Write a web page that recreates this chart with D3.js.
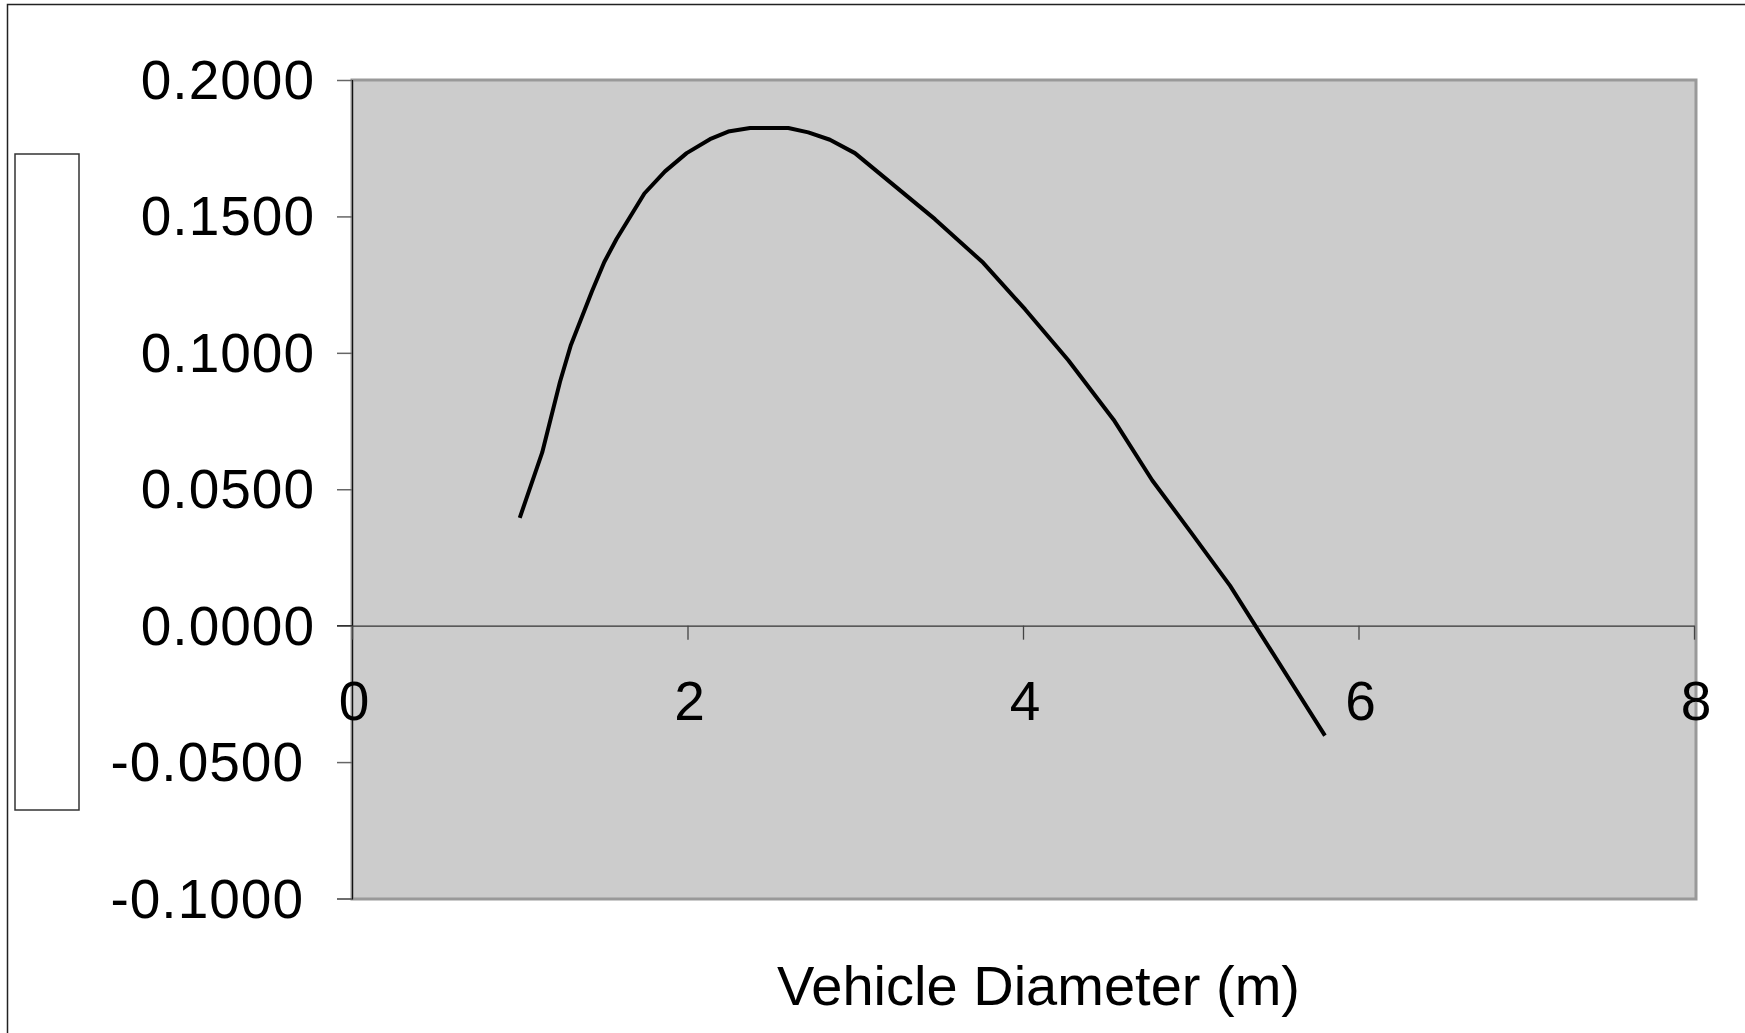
<!DOCTYPE html>
<html>
<head>
<meta charset="utf-8">
<script src="https://cdn.jsdelivr.net/npm/d3@7/dist/d3.min.js"></script>
<style>
  html, body { margin: 0; padding: 0; background: #fff; }
  svg { display: block; }
  text { font-family: "Liberation Sans", Arial, sans-serif; fill: #000; }
</style>
</head>
<body>
<svg id="chart" width="1745" height="1033"></svg>
<script>
// Data
const diameters = [1.0, 1.134, 1.24, 1.305, 1.43, 1.504, 1.577, 1.743, 1.866, 1.995, 2.134, 2.243, 2.373, 2.502, 2.601, 2.72, 2.849, 2.998, 3.475, 3.763, 4.012, 4.27, 4.54, 4.77, 5.0, 5.234, 5.8];
const values    = [0.0395, 0.0635, 0.0894, 0.1029, 0.1225, 0.1333, 0.1417, 0.1584, 0.1665, 0.1732, 0.1783, 0.1811, 0.1824, 0.1824, 0.1824, 0.1808, 0.1781, 0.1732, 0.1490, 0.1330, 0.1160, 0.0973, 0.0755, 0.0533, 0.0343, 0.0147, -0.0403];
const yTicks = [0.2, 0.15, 0.1, 0.05, 0, -0.05, -0.1];
const xTicks = [0, 2, 4, 6, 8];
const xTitle = "Vehicle Diameter (m)";

const svg = d3.select("#chart");
const plot = { left: 352, right: 1696, top: 80, bottom: 899 };

const x = d3.scaleLinear().domain([0, 8]).range([plot.left, 1694]);
const y = d3.scaleLinear().domain([-0.1, 0.2]).range([898.5, 80]);

// outer chart frame
svg.append("rect")
  .attr("x", 7.5).attr("y", 4.5)
  .attr("width", 1760).attr("height", 1060)
  .attr("fill", "#fff").attr("stroke", "#222").attr("stroke-width", 1.5);

// empty legend box
svg.append("rect")
  .attr("x", 15).attr("y", 154)
  .attr("width", 64).attr("height", 656)
  .attr("fill", "#fff").attr("stroke", "#333").attr("stroke-width", 1.5);

// plot area
svg.append("rect")
  .attr("x", plot.left).attr("y", plot.top)
  .attr("width", plot.right - plot.left).attr("height", plot.bottom - plot.top)
  .attr("fill", "#cccccc").attr("stroke", "#999").attr("stroke-width", 3);

// y axis
const yAxis = d3.axisLeft(y).tickValues(yTicks).tickSize(15).tickFormat("");
const gy = svg.append("g").attr("transform", `translate(${plot.left},0)`).call(yAxis);
gy.select(".domain").attr("stroke", "#111").attr("stroke-width", 1.2);
gy.selectAll(".tick line").attr("stroke", "#666").attr("stroke-width", 1.5);

svg.append("g").selectAll("text")
  .data(yTicks).join("text")
  .attr("x", d => d < 0 ? 304 : 315)
  .attr("y", d => y(d) + 19)
  .attr("text-anchor", "end")
  .attr("font-size", 55)
  .attr("letter-spacing", 1)
  .text(d => d3.format(".4f")(d).replace("−", "-"));

// x axis at zero
const xAxis = d3.axisBottom(x).tickValues(xTicks).tickSize(14).tickSizeOuter(0).tickFormat("");
const gx = svg.append("g").attr("transform", `translate(0,${y(0)})`).call(xAxis);
gx.select(".domain").attr("stroke", "#333").attr("stroke-width", 1.3);
gx.selectAll(".tick line").attr("stroke", "#444").attr("stroke-width", 1.3);
svg.append("line")
  .attr("x1", 337).attr("x2", plot.left)
  .attr("y1", y(0)).attr("y2", y(0))
  .attr("stroke", "#333").attr("stroke-width", 1.3);

svg.append("g").selectAll("text")
  .data(xTicks).join("text")
  .attr("x", d => x(d) + 2)
  .attr("y", y(0) + 94)
  .attr("text-anchor", "middle")
  .attr("font-size", 55)
  .text(d => d);

// line series
const line = d3.line().x((d, i) => x(diameters[i])).y(d => y(d));
svg.append("path")
  .datum(values)
  .attr("d", line)
  .attr("fill", "none")
  .attr("stroke", "#000")
  .attr("stroke-width", 4)
  .attr("stroke-linejoin", "round");

// x title
svg.append("text")
  .attr("x", 777).attr("y", 1005)
  .attr("font-size", 56)
  .attr("textLength", 523)
  .attr("lengthAdjust", "spacingAndGlyphs")
  .text(xTitle);
</script>
</body>
</html>
